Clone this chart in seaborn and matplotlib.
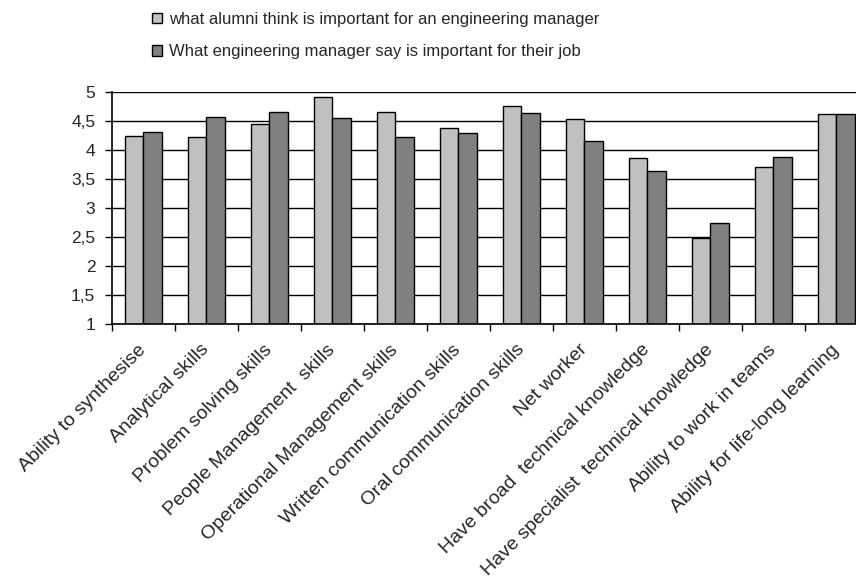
import matplotlib
matplotlib.use("Agg")
import matplotlib.pyplot as plt
from matplotlib.ticker import FuncFormatter, FixedLocator, MultipleLocator
from matplotlib.transforms import ScaledTranslation
import seaborn as sns
import pandas as pd
import numpy as np

skills = [
    "Ability to synthesise",
    "Analytical skills",
    "Problem solving skills",
    "People Management  skills",
    "Operational Management skills",
    "Written communication skills",
    "Oral communication skills",
    "Net worker",
    "Have broad  technical knowledge",
    "Have specialist  technical knowledge",
    "Ability to work in teams",
    "Ability for life-long learning",
]
alumni = [4.24, 4.21, 4.44, 4.90, 4.65, 4.38, 4.76, 4.53, 3.85, 2.47, 3.70, 4.61]
managers = [4.30, 4.57, 4.65, 4.55, 4.21, 4.29, 4.63, 4.15, 3.64, 2.73, 3.88, 4.61]
series_names = [
    "what alumni think is important for an engineering manager",
    "What engineering manager say is important for their job",
]

df = pd.DataFrame({
    "skill": skills * 2,
    "score": alumni + managers,
    "group": [series_names[0]] * len(skills) + [series_names[1]] * len(skills),
})

sns.set_theme(style="white")
plt.rcParams["font.family"] = ["Liberation Sans", "DejaVu Sans"]

fig = plt.figure(figsize=(8.56, 5.81), dpi=100)
# plot area runs slightly past the right edge of the canvas
ax = fig.add_axes([0.1308, 0.4432, 0.8832, 0.399])

sns.barplot(
    data=df, x="skill", y="score", hue="group",
    palette=["#c0c0c0", "#808080"], width=0.6,
    edgecolor="black", linewidth=1.0, saturation=1.0,
    ax=ax, legend=True, zorder=3,
)

ax.set_ylim(1, 5)
ax.set_xlim(-0.5, len(skills) - 0.5)
ax.yaxis.set_major_locator(MultipleLocator(0.5))
ax.yaxis.set_major_formatter(FuncFormatter(lambda v, _: f"{v:g}".replace(".", ",")))
ax.grid(axis="y", color="black", linewidth=1.0, zorder=0)
ax.set_axisbelow(True)

for side in ["top", "right"]:
    ax.spines[side].set_visible(False)
for side in ["left", "bottom"]:
    ax.spines[side].set_color("black")
    ax.spines[side].set_linewidth(1.2)
    ax.spines[side].set_zorder(5)

# category labels rotated, tick marks between groups
ax.set_xticks(np.arange(len(skills)))
ax.set_xticklabels(skills, rotation=45, ha="right", va="center",
                   rotation_mode="anchor", fontsize=14)
shift = ScaledTranslation(-12 / 100, 0, fig.dpi_scale_trans)
for lab in ax.get_xticklabels():
    lab.set_transform(lab.get_transform() + shift)
ax.tick_params(axis="x", which="major", length=0, pad=17)
ax.xaxis.set_minor_locator(FixedLocator(np.arange(-0.5, len(skills), 1.0)))
ax.tick_params(axis="x", which="minor", length=5, width=1, color="black",
               direction="out", bottom=True)
ax.tick_params(axis="y", length=5, width=1, color="black", direction="out",
               left=True, labelsize=12.5, pad=7)
ax.set_xlabel("")
ax.set_ylabel("")

handles, labels = ax.get_legend_handles_labels()
ax.get_legend().remove()
fig.legend(handles, labels, loc="upper left", bbox_to_anchor=(0.170, 0.991),
           frameon=False, fontsize=12, handlelength=0.6, handleheight=0.6,
           handletextpad=0.4, labelspacing=1.05, borderaxespad=0)

fig.savefig("out.png", dpi=100)
